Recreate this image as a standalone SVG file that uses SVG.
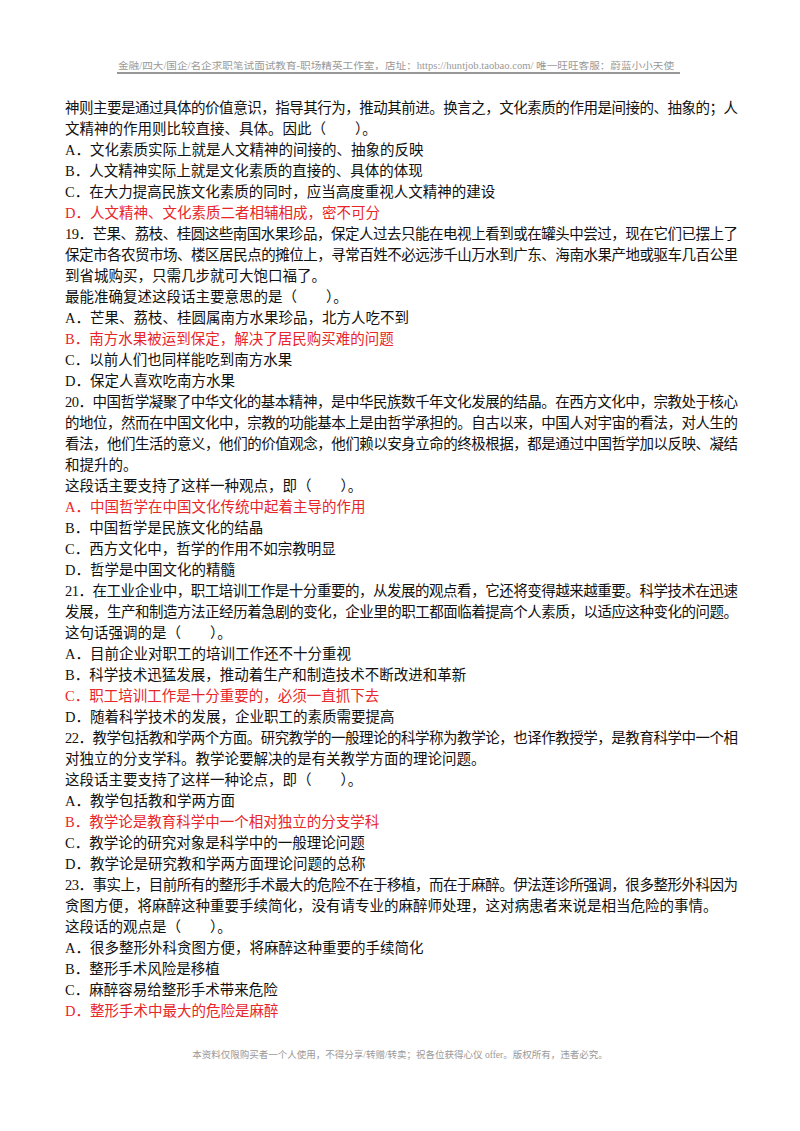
<svg xmlns="http://www.w3.org/2000/svg" width="800" height="1131" viewBox="0 0 800 1131">
<style>
text{font-family:"Liberation Serif","Noto Sans CJK SC",serif;font-size:14.5px;fill:#111}
.r{fill:#e8262a}
.h{font-size:9.5px;fill:#999}
</style>
<rect width="800" height="1131" fill="#fff"/>
<text class="h" x="118" y="69" textLength="556" lengthAdjust="spacingAndGlyphs">金融/四大/国企/名企求职笔试面试教育-职场精英工作室，店址：https://huntjob.taobao.com/  唯一旺旺客服：蔚蓝小小天使</text>
<line x1="117" y1="73" x2="680" y2="73" stroke="#333" stroke-width="1.2"/>
<g transform="translate(0,6)">
<text x="65" y="107" textLength="673">神则主要是通过具体的价值意识，指导其行为，推动其前进。换言之，文化素质的作用是间接的、抽象的；人</text>
<text x="65" y="128">文精神的作用则比较直接、具体。因此（　　）。</text>
<text x="65" y="149">A．文化素质实际上就是人文精神的间接的、抽象的反映</text>
<text x="65" y="170">B．人文精神实际上就是文化素质的直接的、具体的体现</text>
<text x="65" y="191">C．在大力提高民族文化素质的同时，应当高度重视人文精神的建设</text>
<text class="r" x="65" y="212">D．人文精神、文化素质二者相辅相成，密不可分</text>
<text x="65" y="233" textLength="673">19．芒果、荔枝、桂圆这些南国水果珍品，保定人过去只能在电视上看到或在罐头中尝过，现在它们已摆上了</text>
<text x="65" y="254" textLength="673">保定市各农贸市场、楼区居民点的摊位上，寻常百姓不必远涉千山万水到广东、海南水果产地或驱车几百公里</text>
<text x="65" y="275">到省城购买，只需几步就可大饱口福了。</text>
<text x="65" y="296">最能准确复述这段话主要意思的是（　　）。</text>
<text x="65" y="317">A．芒果、荔枝、桂圆属南方水果珍品，北方人吃不到</text>
<text class="r" x="65" y="338">B．南方水果被运到保定，解决了居民购买难的问题</text>
<text x="65" y="359">C．以前人们也同样能吃到南方水果</text>
<text x="65" y="380">D．保定人喜欢吃南方水果</text>
<text x="65" y="401" textLength="673">20．中国哲学凝聚了中华文化的基本精神，是中华民族数千年文化发展的结晶。在西方文化中，宗教处于核心</text>
<text x="65" y="422" textLength="673">的地位，然而在中国文化中，宗教的功能基本上是由哲学承担的。自古以来，中国人对宇宙的看法，对人生的</text>
<text x="65" y="443" textLength="673">看法，他们生活的意义，他们的价值观念，他们赖以安身立命的终极根据，都是通过中国哲学加以反映、凝结</text>
<text x="65" y="464">和提升的。</text>
<text x="65" y="485">这段话主要支持了这样一种观点，即（　　）。</text>
<text class="r" x="65" y="506">A．中国哲学在中国文化传统中起着主导的作用</text>
<text x="65" y="527">B．中国哲学是民族文化的结晶</text>
<text x="65" y="548">C．西方文化中，哲学的作用不如宗教明显</text>
<text x="65" y="569">D．哲学是中国文化的精髓</text>
<text x="65" y="590" textLength="673">21．在工业企业中，职工培训工作是十分重要的，从发展的观点看，它还将变得越来越重要。科学技术在迅速</text>
<text x="65" y="611" textLength="673">发展，生产和制造方法正经历着急剧的变化，企业里的职工都面临着提高个人素质，以适应这种变化的问题。</text>
<text x="65" y="632">这句话强调的是（　　）。</text>
<text x="65" y="653">A．目前企业对职工的培训工作还不十分重视</text>
<text x="65" y="674">B．科学技术迅猛发展，推动着生产和制造技术不断改进和革新</text>
<text class="r" x="65" y="695">C．职工培训工作是十分重要的，必须一直抓下去</text>
<text x="65" y="716">D．随着科学技术的发展，企业职工的素质需要提高</text>
<text x="65" y="737" textLength="673">22．教学包括教和学两个方面。研究教学的一般理论的科学称为教学论，也译作教授学，是教育科学中一个相</text>
<text x="65" y="758">对独立的分支学科。教学论要解决的是有关教学方面的理论问题。</text>
<text x="65" y="779">这段话主要支持了这样一种论点，即（　　）。</text>
<text x="65" y="800">A．教学包括教和学两方面</text>
<text class="r" x="65" y="821">B．教学论是教育科学中一个相对独立的分支学科</text>
<text x="65" y="842">C．教学论的研究对象是科学中的一般理论问题</text>
<text x="65" y="863">D．教学论是研究教和学两方面理论问题的总称</text>
<text x="65" y="884" textLength="673">23．事实上，目前所有的整形手术最大的危险不在于移植，而在于麻醉。伊法莲诊所强调，很多整形外科因为</text>
<text x="65" y="905">贪图方便，将麻醉这种重要手续简化，没有请专业的麻醉师处理，这对病患者来说是相当危险的事情。</text>
<text x="65" y="926">这段话的观点是（　　）。</text>
<text x="65" y="947">A．很多整形外科贪图方便，将麻醉这种重要的手续简化</text>
<text x="65" y="968">B．整形手术风险是移植</text>
<text x="65" y="989">C．麻醉容易给整形手术带来危险</text>
<text class="r" x="65" y="1010">D．整形手术中最大的危险是麻醉</text>
</g>
<text class="h" x="400" y="1058" text-anchor="middle">本资料仅限购买者一个人使用，不得分享/转赠/转卖；祝各位获得心仪 offer。版权所有，违者必究。</text>
</svg>
